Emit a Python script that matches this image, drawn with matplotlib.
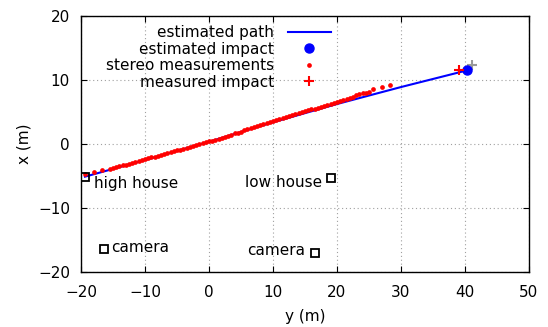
import matplotlib
matplotlib.use('Agg')
import matplotlib.pyplot as plt
import numpy as np

# estimated path (y, x in metres)
path_y = [-19.4, -10, 0, 10, 20, 30, 40.3]
path_x = [-5.1, -2.5, 0.35, 3.4, 6.25, 8.9, 11.5]

# estimated / measured impact
est_impact = (40.3, 11.5)
meas_impact = (39.1, 11.5)
other_impact = (41.1, 12.3)

# stereo measurements
stereo_y = [-19.4, -18.05, -16.8, -15.5,
            -15, -14.5, -14, -13.5, -13, -12.5, -12, -11.5, -11, -10.5,
            -10, -9.5, -9, -8.5, -8, -7.5, -7, -6.5, -6, -5.5,
            -5, -4.5, -4, -3.5, -3, -2.5, -2, -1.5, -1, -0.5,
            0, 0.5, 1, 1.5, 2, 2.5, 3, 3.5, 4, 4.5,
            5, 5.5, 6, 6.5, 7, 7.5, 8, 8.5, 9, 9.5,
            10, 10.5, 11, 11.5, 12, 12.5, 13, 13.5, 14, 14.5,
            15, 15.5, 16, 16.5, 17, 17.5, 18, 18.5, 19, 19.5,
            20, 20.5, 21, 21.5, 22, 22.5, 23, 23.5, 24, 24.5,
            25, 25.7, 27.0, 28.3]
stereo_x = [-4.7, -4.4, -4.1, -3.9,
            -3.75, -3.62, -3.5, -3.35, -3.2, -3.08, -2.95, -2.8, -2.65, -2.52,
            -2.4, -2.25, -2.1, -1.98, -1.85, -1.7, -1.55, -1.42, -1.3, -1.15,
            -1.0, -0.88, -0.75, -0.6, -0.45, -0.32, -0.2, -0.05, 0.1, 0.25,
            0.4, 0.55, 0.7, 0.85, 1.0, 1.15, 1.3, 1.48, 1.65, 1.8,
            1.95, 2.12, 2.3, 2.45, 2.6, 2.78, 2.95, 3.12, 3.3, 3.45,
            3.6, 3.75, 3.9, 4.05, 4.2, 4.35, 4.5, 4.65, 4.8, 4.95,
            5.1, 5.25, 5.4, 5.55, 5.7, 5.85, 6.0, 6.15, 6.3, 6.45,
            6.6, 6.78, 6.95, 7.1, 7.25, 7.42, 7.6, 7.75, 7.9, 8.05,
            8.2, 8.55, 8.95, 9.22]

# landmarks
landmark_names = ['high house', 'low house', 'camera', 'camera']
landmark_y = [-19.4, 19.1, -16.4, 16.6]
landmark_x = [-5.2, -5.3, -16.4, -17.0]

fig = plt.figure(figsize=(5.48, 3.27), dpi=100)
ax = fig.add_axes([0.148, 0.168, 0.817, 0.783])

ax.plot(path_y, path_x, color='blue', linewidth=1.5, label='estimated path', zorder=3)
ax.plot([est_impact[0]], [est_impact[1]], 'o', color='blue', markersize=6.5,
        linestyle='none', label='estimated impact', zorder=4)
ax.plot(stereo_y, stereo_x, 'o', color='red', markersize=3.4, markeredgewidth=0,
        linestyle='none', label='stereo measurements', zorder=4)
ax.plot([meas_impact[0]], [meas_impact[1]], '+', color='red', markersize=7,
        markeredgewidth=1.5, linestyle='none', label='measured impact', zorder=5)
ax.plot([other_impact[0]], [other_impact[1]], '+', color='#999999', markersize=7,
        markeredgewidth=1.5, linestyle='none', zorder=3)

ax.plot(landmark_y, landmark_x, 's', markerfacecolor='none', markeredgecolor='black',
        markersize=6, markeredgewidth=1.3, linestyle='none', zorder=5)

fs = 11
ax.text(-18.0, -6.2, 'high house', fontsize=fs, ha='left', va='center')
ax.text(17.7, -6.0, 'low house', fontsize=fs, ha='right', va='center')
ax.text(-15.3, -16.1, 'camera', fontsize=fs, ha='left', va='center')
ax.text(15.1, -16.6, 'camera', fontsize=fs, ha='right', va='center')

ax.set_xlim(-20, 50)
ax.set_ylim(-20, 20)
ax.set_xticks(np.arange(-20, 51, 10))
ax.set_yticks(np.arange(-20, 21, 10))
ax.tick_params(direction='in', top=True, right=True, length=4, labelsize=fs)
ax.tick_params(axis='x', pad=9)
ax.tick_params(axis='y', pad=8)
ax.grid(True, color='#a0a0a0', linestyle=(0, (1, 2.5)), linewidth=0.8)
ax.set_axisbelow(True)
for s in ax.spines.values():
    s.set_linewidth(1.0)

ax.set_xlabel('y (m)', fontsize=fs, labelpad=7)
ax.set_ylabel('x (m)', fontsize=fs, labelpad=5)

leg = ax.legend(loc='upper left', bbox_to_anchor=(0.035, 1.0), frameon=False,
                markerfirst=False, fontsize=fs, handlelength=2.8,
                labelspacing=0.1, borderaxespad=0.2, handletextpad=0.9)

fig.savefig('out.png', dpi=100)
